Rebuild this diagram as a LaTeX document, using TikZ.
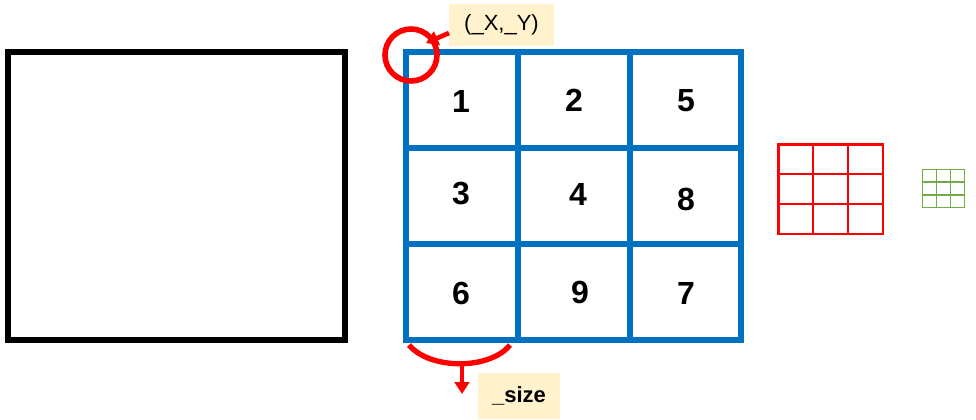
\documentclass[tikz,border=0pt]{standalone}
\usepackage{fontspec}
\setmainfont{Liberation Sans}
\usetikzlibrary{arrows.meta}
\definecolor{gblue}{HTML}{0070C0}
\definecolor{gred}{HTML}{FF0000}
\definecolor{ggreen}{HTML}{70AD47}
\definecolor{note}{HTML}{FFF2CC}
\begin{document}
\begin{tikzpicture}[x=0.75pt,y=-0.75pt,
  num/.style={font=\fontsize{24}{27}\selectfont\bfseries, inner sep=0pt},
  notebox/.style={fill=note, inner sep=0pt, font=\fontsize{16.5}{19}\selectfont},
  redarrow/.style={gred, line width=3.5pt, -{Triangle[length=9pt,width=11pt]}}]
\useasboundingbox (0,0) rectangle (976,419);
% black square
\draw[line width=4.5pt] (8,52) rectangle (345,340);
% blue grid
\draw[gblue, line width=5pt] (406,52) rectangle (741,340);
\draw[gblue, line width=5pt] (518,52) -- (518,340) (630,52) -- (630,340)
  (406,148) -- (741,148) (406,244) -- (741,244);
\node[num] (n1) at (461,101) {1};
\node[num] (n2) at (574,100) {2};
\node[num] (n5) at (686,101) {5};
\node[num] (n3) at (461,194) {3};
\node[num] (n4) at (578,194) {4};
\node[num] (n8) at (686,199) {8};
\node[num] (n6) at (461,293) {6};
\node[num] (n9) at (580,292) {9};
\node[num] (n7) at (686,293) {7};
% red circle and label
\node[draw=gred, line width=4.2pt, circle, minimum size=39pt, inner sep=0pt] (circ) at (411,55) {};
\node[notebox, minimum width=79pt, minimum height=32pt] (xy) at (501.5,25) {(\_X,\_Y)};
\coordinate (xyarr) at (449,33);
\coordinate (tip1) at (426,43);
\draw[redarrow] (xyarr) -- (tip1);
% size arc and label
\coordinate (a1) at (409,345);
\coordinate (a2) at (510,345);
\coordinate (abot) at (462,363);
\coordinate (tip2) at (462,394);
\draw[gred, line width=4pt] (a1) .. controls (430,370) and (490,370) .. (a2);
\draw[redarrow] (abot) -- (tip2);
\node[notebox, font=\fontsize{16.5}{19}\selectfont\bfseries, minimum width=61.5pt, minimum height=35pt] (sz) at (519,396) {\_size};
% red grid
\draw[gred, line width=2.2pt] (778.5,144.5) rectangle (883,234);
\draw[gred, line width=2.2pt] (813,144.5) -- (813,234) (848,144.5) -- (848,234)
  (778.5,174) -- (883,174) (778.5,204) -- (883,204);
% green grid
\draw[ggreen, line width=0.9pt] (922.5,169.5) rectangle (964.5,207.5);
\draw[ggreen, line width=0.9pt] (936.5,169.5) -- (936.5,207.5) (950.5,169.5) -- (950.5,207.5)
  (922.5,182) -- (964.5,182) (922.5,195) -- (964.5,195);
\end{tikzpicture}
\end{document}
